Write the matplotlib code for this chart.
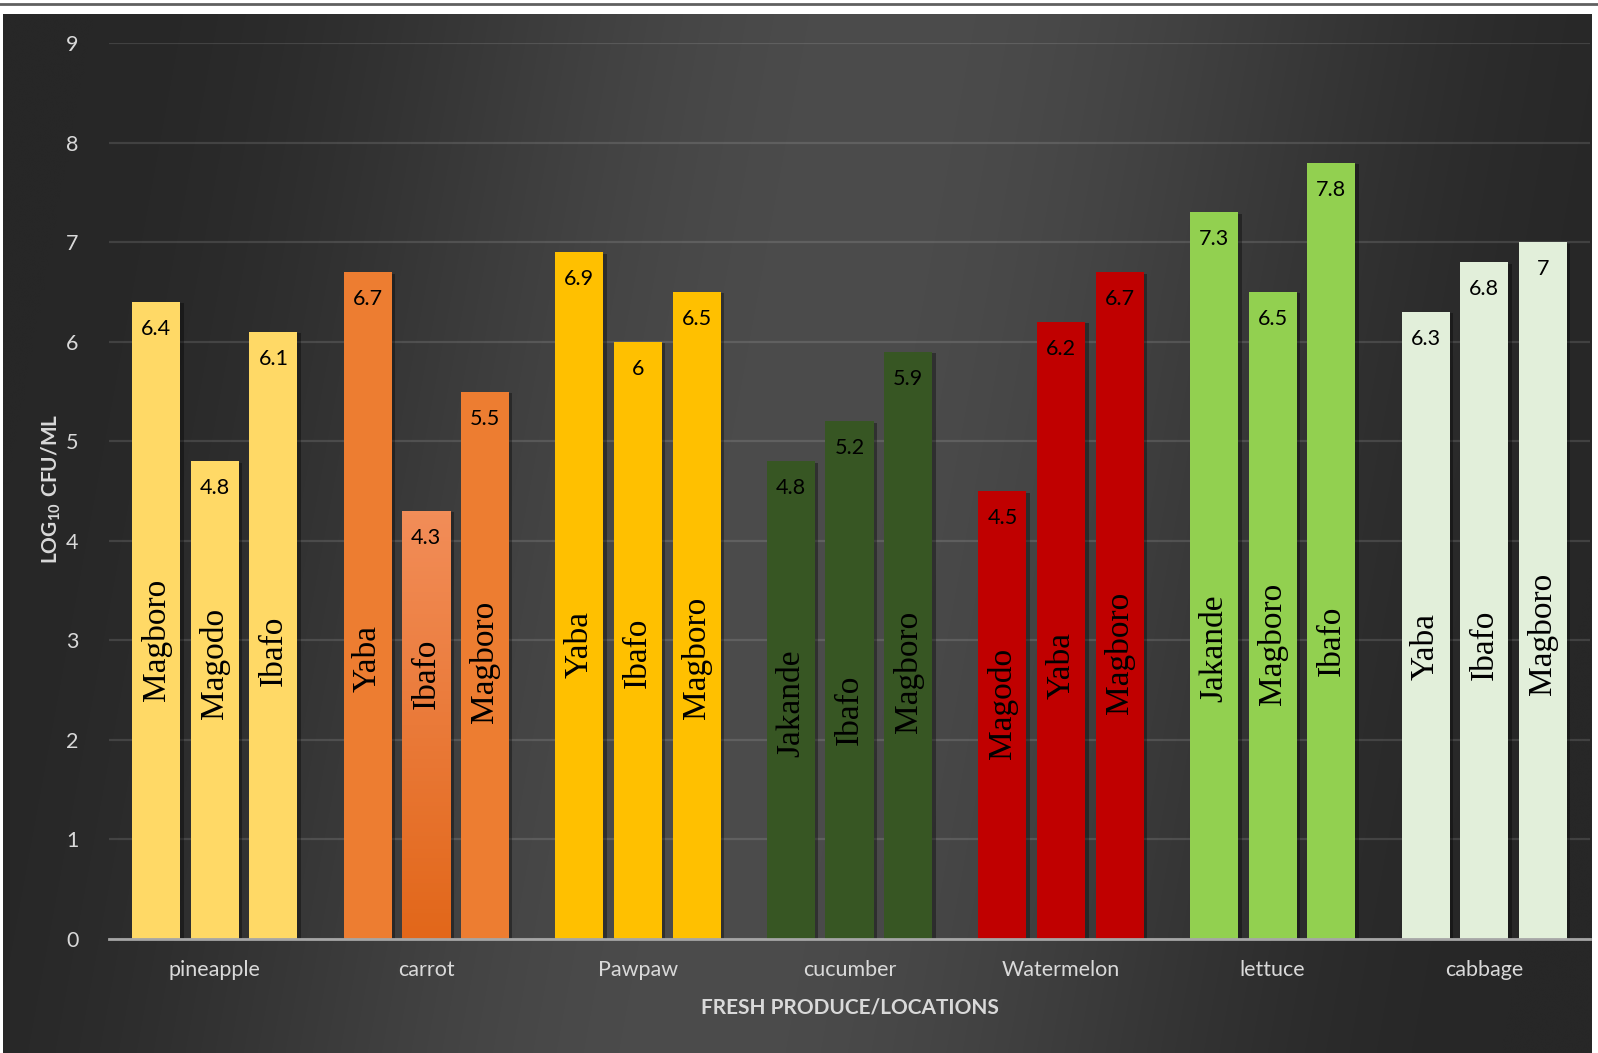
import numpy as np
import matplotlib
matplotlib.use("Agg")
import matplotlib.pyplot as plt
import matplotlib.patheffects as pe
from matplotlib.colors import LinearSegmentedColormap
from matplotlib.lines import Line2D

plt.rcParams['font.family'] = ['Lato', 'DejaVu Sans']
plt.rcParams['mathtext.fontset'] = 'custom'
plt.rcParams['mathtext.rm'] = 'Lato'
plt.rcParams['mathtext.bf'] = 'Lato:bold'

# data
produce = ['pineapple', 'carrot', 'Pawpaw', 'cucumber', 'Watermelon', 'lettuce', 'cabbage']
locations = [
    ['Magboro', 'Magodo', 'Ibafo'],
    ['Yaba', 'Ibafo', 'Magboro'],
    ['Yaba', 'Ibafo', 'Magboro'],
    ['Jakande', 'Ibafo', 'Magboro'],
    ['Magodo', 'Yaba', 'Magboro'],
    ['Jakande', 'Magboro', 'Ibafo'],
    ['Yaba', 'Ibafo', 'Magboro'],
]
values = [
    [6.4, 4.8, 6.1],
    [6.7, 4.3, 5.5],
    [6.9, 6.0, 6.5],
    [4.8, 5.2, 5.9],
    [4.5, 6.2, 6.7],
    [7.3, 6.5, 7.8],
    [6.3, 6.8, 7.0],
]
value_text = [
    ['6.4', '4.8', '6.1'],
    ['6.7', '4.3', '5.5'],
    ['6.9', '6', '6.5'],
    ['4.8', '5.2', '5.9'],
    ['4.5', '6.2', '6.7'],
    ['7.3', '6.5', '7.8'],
    ['6.3', '6.8', '7'],
]
# where the location names sit (middle of the text, in y units)
name_mid = [
    [3.01, 2.77, 2.90],
    [2.82, 2.66, 2.78],
    [2.96, 2.88, 2.82],
    [2.37, 2.30, 2.68],
    [2.37, 2.75, 2.87],
    [2.92, 2.97, 3.00],
    [2.94, 2.96, 3.07],
]

colors = ['#FFD966', '#ED7D31', '#FFC000', '#375623', '#C00000', '#92D050', '#E2EFDA']
gradient_bars = {(1, 1): ('#F28D58', '#E2671A')}

W, H = 1598, 1053
fig = plt.figure(figsize=(W / 100, H / 100), dpi=100, facecolor='white')

# dark chart-area background, lighter band in the middle
bg = fig.add_axes([3 / W, 0, 1589 / W, 1039 / H], zorder=-5)
gx = np.linspace(-1, 1, 400)
gy = np.linspace(-1, 1, 300)
XX, YY = np.meshgrid(gx, gy)
t = np.clip(np.abs(XX + 0.12 * YY), 0, 1)
k = 0.5 * (1 + np.cos(np.pi * t))
shade = (0x27 + k * (0x4c - 0x27)) / 255.0
bg.imshow(np.dstack([shade, shade, shade]), aspect='auto', extent=(0, 1, 0, 1), interpolation='bicubic')
bg.set_axis_off()

fig.add_artist(Line2D([0, 1], [1 - 4 / H, 1 - 4 / H], color='#606060', lw=2, transform=fig.transFigure))

ax = fig.add_axes([109 / W, 1 - 939 / H, 1481 / W, (939 - 43.3) / H])
ax.set_facecolor('none')

bar_w = 0.227
step = 0.277
shadow = [pe.SimplePatchShadow(offset=(2.5, -1), shadow_rgbFace='black', alpha=0.35), pe.Normal()]

for i, cat in enumerate(produce):
    for j in range(3):
        xpos = i + (j - 1) * step
        bars = ax.bar(xpos, values[i][j], width=bar_w, color=colors[i], zorder=3)
        patch = bars[0]
        patch.set_path_effects(shadow)
        if (i, j) in gradient_bars:
            top_c, bot_c = gradient_bars[(i, j)]
            cmap = LinearSegmentedColormap.from_list('g', [bot_c, top_c])
            x0, y0 = patch.get_x(), patch.get_y()
            im = ax.imshow(np.linspace(0, 1, 100).reshape(-1, 1), cmap=cmap, aspect='auto', origin='lower',
                           extent=(x0, x0 + patch.get_width(), y0, y0 + patch.get_height()), zorder=3.5)
            im.set_clip_path(patch)
        ax.annotate(value_text[i][j], (xpos, values[i][j]), xytext=(0, -27), textcoords='offset pixels',
                    ha='center', va='center', fontsize=15.5, color='black', zorder=5)
        ax.text(xpos, name_mid[i][j], locations[i][j], rotation=90, ha='center', va='center',
                fontsize=24, family='Liberation Serif', color='black', zorder=5)

ax.set_xlim(-0.5, len(produce) - 0.5)
ax.set_ylim(0, 9)
ax.set_yticks(range(10))
ax.set_xticks(range(len(produce)))
ax.set_xticklabels(produce)
ax.tick_params(axis='both', length=0, labelsize=15.5, labelcolor='#D9D9D9')
ax.tick_params(axis='y', pad=22)
ax.tick_params(axis='x', pad=15)
ax.grid(axis='y', color='white', alpha=0.12, lw=1.6, zorder=0)
ax.set_axisbelow(True)
for s in ['top', 'right', 'left']:
    ax.spines[s].set_visible(False)
ax.spines['bottom'].set_color('#A6A6A6')
ax.spines['bottom'].set_linewidth(2)
ax.spines['bottom'].set_zorder(4)

fig.text(51 / W, 1 - 489 / H, r'$\mathbf{LOG_{10}\ CFU/ML}$', rotation=90, ha='center', va='center',
         fontsize=15, color='#D9D9D9')
fig.text((109 + 1481 / 2) / W, 1 - 1007 / H, 'FRESH PRODUCE/LOCATIONS', ha='center', va='center',
         fontsize=15, fontweight='bold', color='#D9D9D9')

fig.savefig('out.png', dpi=100, facecolor=fig.get_facecolor())
